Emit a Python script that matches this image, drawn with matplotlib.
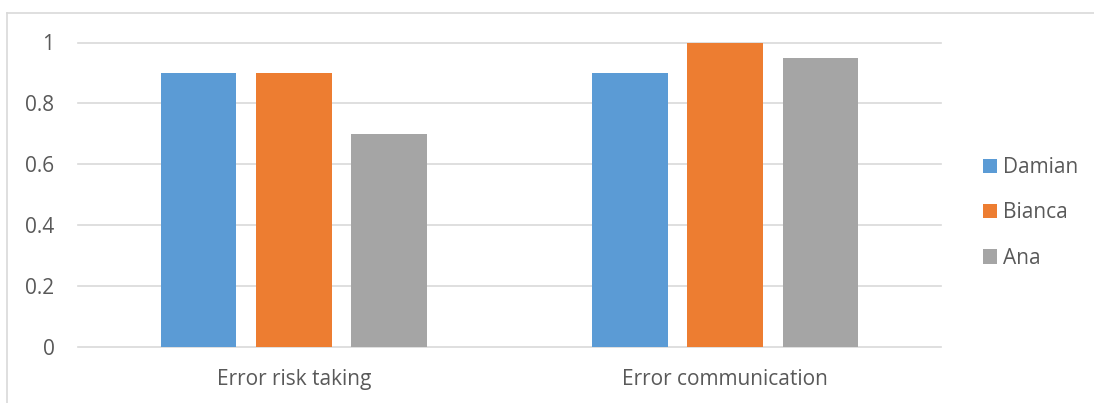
import matplotlib.pyplot as plt
import numpy as np

# chart data
categories = ['Error risk taking', 'Error communication']
names = ['Damian', 'Bianca', 'Ana']
damian = [0.9, 0.9]
bianca = [0.9, 1.0]
ana = [0.7, 0.95]
series = [damian, bianca, ana]
colors = ['#5b9bd5', '#ed7d31', '#a5a5a5']

plt.rcParams['font.family'] = ['Open Sans', 'DejaVu Sans']
text_color = '#595959'

fig = plt.figure(figsize=(10.94, 4.03), dpi=100)
ax = fig.add_axes([78 / 1094, 1 - 347 / 403, (941 - 78) / 1094, (347 - 42.5) / 403])

x = np.arange(len(categories))
width = 0.175
step = 0.221
for i, (vals, name, c) in enumerate(zip(series, names, colors)):
    ax.bar(x + (i - 1) * step, vals, width, color=c, label=name, zorder=3)

ax.set_xlim(-0.5, 1.5)
ax.set_ylim(0, 1)
ax.set_yticks([0, 0.2, 0.4, 0.6, 0.8, 1])
ax.set_yticklabels(['0', '0.2', '0.4', '0.6', '0.8', '1'])
ax.set_xticks(x)
ax.set_xticklabels(categories)
ax.grid(axis='y', color='#d9d9d9', linewidth=1.2, zorder=0)
ax.set_axisbelow(True)
for s in ax.spines.values():
    s.set_visible(False)
ax.tick_params(length=0, labelsize=15, labelcolor=text_color)
ax.tick_params(axis='y', pad=17)
ax.tick_params(axis='x', pad=16)
for gl in ax.get_ygridlines():
    gl.set_clip_on(False)

leg = fig.legend(loc='center left', bbox_to_anchor=(964 / 1094, 1 - 213 / 403),
                 frameon=False, fontsize=15, labelcolor=text_color,
                 handlelength=0.68, handleheight=0.68, handletextpad=0.3,
                 labelspacing=1.17)

# outer chart border
fig.add_artist(plt.Line2D([7 / 1094, 7 / 1094], [0, 1 - 13 / 403],
                          color='#d9d9d9', linewidth=1.2))
fig.add_artist(plt.Line2D([7 / 1094, 1], [1 - 13 / 403, 1 - 13 / 403],
                          color='#d9d9d9', linewidth=1.2))

fig.savefig('out.png', dpi=100)
